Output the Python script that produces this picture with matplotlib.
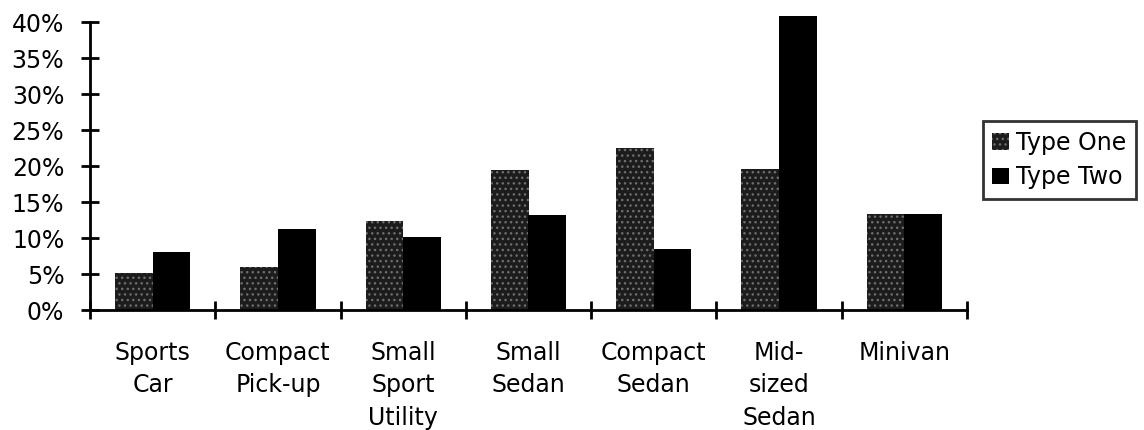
import numpy as np
import matplotlib
matplotlib.use("Agg")
import matplotlib.pyplot as plt

categories = ["Sports\nCar", "Compact\nPick-up", "Small\nSport\nUtility", "Small\nSedan",
              "Compact\nSedan", "Mid-\nsized\nSedan", "Minivan"]
type_one = [5.2, 6.0, 12.4, 19.5, 22.5, 19.6, 13.4]
type_two = [8.1, 11.2, 10.1, 13.2, 8.5, 40.8, 13.4]
y_ticks = [0, 5, 10, 15, 20, 25, 30, 35, 40]

plt.rcParams['font.family'] = ['DejaVu Sans']
plt.rcParams['hatch.linewidth'] = 1.0

fig = plt.figure(figsize=(11.44, 4.30), dpi=100)
ax = fig.add_axes([90 / 1144, 120 / 430, 877 / 1144, 288 / 430])

x = np.arange(len(categories))
w = 0.3
b1 = ax.bar(x - w / 2, type_one, width=w, color='#1c1c1c', edgecolor='#6e6e6e',
            hatch='...', linewidth=0, label='Type One', clip_on=False)
b2 = ax.bar(x + w / 2, type_two, width=w, color='black', linewidth=0,
            label='Type Two', clip_on=False)

ax.set_xlim(-0.5, len(categories) - 0.5)
ax.set_ylim(0, 40)
ax.set_yticks(y_ticks)
ax.set_yticklabels([f"{t}%" for t in y_ticks], fontsize=17)

# boundary ticks, labels centred under each group
ax.set_xticks(np.arange(len(categories) + 1) - 0.5)
ax.set_xticklabels([])
ax.set_xticks(x, minor=True)
ax.set_xticklabels(categories, minor=True, fontsize=17, linespacing=1.45, va='top')
ax.tick_params(axis='x', which='minor', length=0, pad=22)
ax.tick_params(axis='x', which='major', direction='inout', length=13, width=2)
ax.tick_params(axis='y', direction='inout', length=13, width=2, pad=12)

for s in ['top', 'right']:
    ax.spines[s].set_visible(False)
for s in ['left', 'bottom']:
    ax.spines[s].set_linewidth(2)

leg = fig.legend(handles=[b1, b2], loc='center', bbox_to_anchor=(0.926, 0.628),
                 fontsize=17, frameon=True, fancybox=False, edgecolor='black',
                 handlelength=0.7, handleheight=0.7, handletextpad=0.3,
                 borderpad=0.4, labelspacing=0.45, borderaxespad=0)
leg.get_frame().set_linewidth(2)

fig.savefig("out.png", dpi=100)
